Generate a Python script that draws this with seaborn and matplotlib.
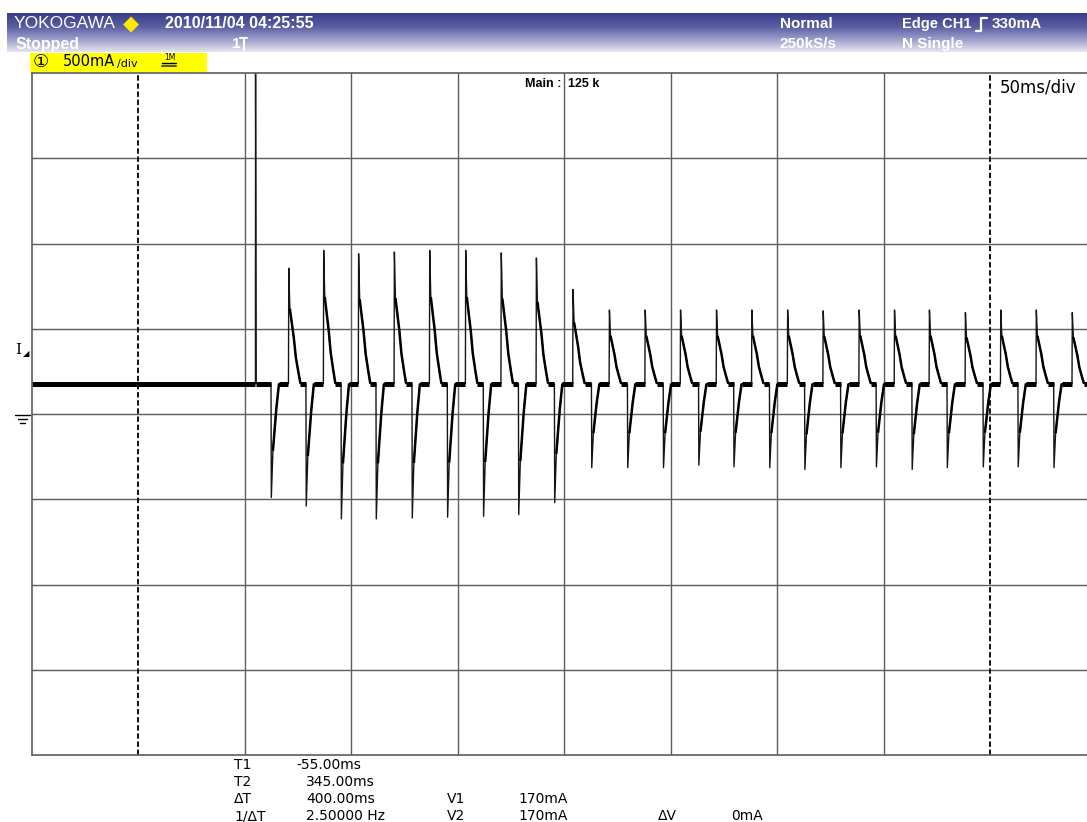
import matplotlib
matplotlib.use('Agg')  # Non-interactive backend
import matplotlib.pyplot as plt
from matplotlib.patches import Rectangle
from matplotlib.lines import Line2D
from matplotlib.colors import LinearSegmentedColormap
import seaborn as sns
import numpy as np
import pandas as pd

sns.set_theme(style="white")
plt.rcParams['font.family'] = ['DejaVu Sans']
HDR_FONT = ['Liberation Sans', 'DejaVu Sans']

W, H = 1087, 822

# scope window: 50 ms/div, 500 mA/div
T_LEFT, T_RIGHT = -105.0, 390.5
Y_MIN, Y_MAX = -2000, 2000
CURSOR_T = [-55.0, 345.0]
GRID_T = [-5, 45, 95, 145, 195, 245, 295]
GRID_MA = [-1500, -1000, -500, 0, 500, 1000, 1500]

BASELINE_MA = 178
TRIG_T = 0.0
TRIG_PEAK_MA = 2100

# negative spikes (time ms, minimum mA)
neg_t = [7.4, 23.8, 40.3, 56.7, 73.6, 90.2, 107.1, 123.6, 140.5,
         157.9, 174.8, 191.6, 208.2, 224.7, 241.5, 258.0, 274.9, 291.6,
         308.4, 324.9, 341.8, 358.2, 375.0]
neg_ma = [-490, -540, -615, -615, -610, -605, -600, -590, -520,
          -315, -315, -315, -300, -310, -315, -325, -315, -310,
          -325, -315, -310, -310, -315]

# positive spikes (time ms, maximum mA)
pos_t = [15.6, 32.0, 48.4, 65.2, 81.8, 98.7, 115.4, 131.9, 149.1,
         166.2, 183.0, 199.6, 216.5, 233.1, 249.9, 266.6, 283.5, 300.1,
         316.5, 333.4, 350.0, 366.7, 383.6]
pos_ma = [855, 960, 940, 950, 960, 960, 945, 915, 730,
          610, 610, 610, 610, 610, 610, 605, 610, 610,
          610, 595, 610, 610, 595]

# pulse shapes: offset (ms) and fraction of the excursion
pos_dt = [-0.15, 0.0, 0.5, 1.25, 2.35, 3.3, 4.5, 5.5]
pos_frac = [0, 1, 0.65, 0.55, 0.4, 0.23, 0.1, 0]
neg_dt = [-0.15, 0.0, 0.75, 1.55, 2.35, 3.6]
neg_frac = [0, 1, 0.59, 0.4, 0.22, 0]
trig_dt = [-0.05, 0.0, 0.25]
trig_frac = [0, 1, 0]


def px(x, y):
    """Pixel position (from top-left) to figure fraction."""
    return x / W, 1 - y / H


def fig_line(fig, xs, ys, **kw):
    fig.add_artist(Line2D([x / W for x in xs], [1 - y / H for y in ys],
                          transform=fig.transFigure, **kw))


# build the trace from the spike list
events = [(TRIG_T, TRIG_PEAK_MA, trig_dt, trig_frac)]
events += [(t, a, neg_dt, neg_frac) for t, a in zip(neg_t, neg_ma)]
events += [(t, a, pos_dt, pos_frac) for t, a in zip(pos_t, pos_ma)]
events.sort(key=lambda e: e[0])

ts, vs, gaps = [T_LEFT], [BASELINE_MA], []
tail_t, tail_v = [], []   # noisy recovery part of each spike
prev_end = T_LEFT
for t0, amp, dts, fr in events:
    gaps.append((prev_end, t0 + dts[0]))
    for i, (d, f) in enumerate(zip(dts, fr)):
        v = BASELINE_MA + f * (amp - BASELINE_MA)
        ts.append(t0 + d)
        vs.append(v)
        if i >= 2:
            tail_t.append(t0 + d)
            tail_v.append(v)
    tail_t.append(np.nan)
    tail_v.append(np.nan)
    prev_end = t0 + dts[-1]
gaps.append((prev_end, T_RIGHT))
ts.append(T_RIGHT)
vs.append(BASELINE_MA)
trace = pd.DataFrame({'t_ms': ts, 'i_ma': vs})

fig = plt.figure(figsize=(W / 100, H / 100), dpi=100, facecolor='white')

# header bar with vertical gradient
hx0, hy1 = px(7, 52)
hdr = fig.add_axes([hx0, hy1, 1 - hx0, 39 / H])
grad = np.linspace(0, 1, 64).reshape(-1, 1)
hdr_cmap = LinearSegmentedColormap.from_list('hdr', ['#3a3e8c', '#585ca0', '#9a9cca', '#e4e4ef'])
hdr.imshow(grad, aspect='auto', cmap=hdr_cmap, extent=[0, 1, 0, 1], origin='upper')
hdr.axis('off')

# main scope area
ax0, ay0 = px(32, 755)
ax = fig.add_axes([ax0, ay0, 1 - ax0, (755 - 73) / H])
ax.set_facecolor('white')
sns.lineplot(data=trace, x='t_ms', y='i_ma', ax=ax, color='#151515', lw=1.0,
             estimator=None, sort=False)
ax.plot(tail_t, tail_v, color='black', lw=1.8, solid_capstyle='butt')
ax.hlines([BASELINE_MA] * len(gaps), [g[0] for g in gaps], [g[1] for g in gaps],
          color='black', lw=3.6)
for x in GRID_T:
    ax.axvline(x, color='#5c5c5c', lw=1.0, zorder=0)
for y in GRID_MA:
    ax.axhline(y, color='#5c5c5c', lw=1.0, zorder=0)
for x in CURSOR_T:
    ax.axvline(x, color='black', lw=1.3, ls=(0, (3, 1.5)), zorder=1)
ax.set_xlim(T_LEFT, T_RIGHT)
ax.set_ylim(Y_MIN, Y_MAX)
ax.set_xlabel('')
ax.set_ylabel('')
ax.set_xticks([])
ax.set_yticks([])
for side in ['left', 'top', 'bottom']:
    ax.spines[side].set_color('#5c5c5c')
    ax.spines[side].set_linewidth(1.2)
ax.spines['right'].set_visible(False)

fig.text(*px(561, 84), 'Main :', fontsize=9, fontweight='bold', family=HDR_FONT,
         color='black', ha='right', va='center')
fig.text(*px(568, 84), '125 k', fontsize=9, fontweight='bold', family=HDR_FONT,
         color='black', ha='left', va='center')
fig.text(*px(1000, 88), '50ms/div', fontsize=12, color='black', ha='left', va='center')

# header texts
hw = dict(color='white', va='center', ha='left', family=HDR_FONT)
fig.text(*px(14, 23), 'YOKOGAWA', fontsize=12.5, **hw)
fig.text(*px(123, 24), '◆', fontsize=15, color='#ffe800', va='center', ha='left')
fig.text(*px(165, 24), '2010/11/04 04:25:55', fontsize=11.5, fontweight='bold', **hw)
fig.text(*px(16, 44), 'Stopped', fontsize=11.5, fontweight='bold', **hw)
fig.text(*px(232, 44), '1', fontsize=11, fontweight='bold', **hw)
fig_line(fig, [240, 247], [38, 38], color='white', lw=1.5)
fig_line(fig, [243.5, 243.5], [38, 50], color='white', lw=1.5)
fig.text(*px(780, 24), 'Normal', fontsize=11, fontweight='bold', **hw)
fig.text(*px(780, 44), '250kS/s', fontsize=11, fontweight='bold', **hw)
fig.text(*px(902, 24), 'Edge CH1', fontsize=10.5, fontweight='bold', **hw)
fig.text(*px(992, 24), '330mA', fontsize=11, fontweight='bold', **hw)
fig.text(*px(902, 44), 'N Single', fontsize=11, fontweight='bold', **hw)
# rising-edge icon
fig_line(fig, [976, 981, 981, 987], [31, 31, 18, 18], color='white', lw=1.6)

# channel label box
bx, by = px(30, 72)
fig.add_artist(Rectangle((bx, by), 177 / W, 19 / H, transform=fig.transFigure,
                         facecolor='#ffff00', edgecolor='none'))
fig.text(*px(33, 62), '①', fontsize=13, color='black', va='center', ha='left')
fig.text(*px(63, 62), '500mA', fontsize=10.5, color='black', va='center', ha='left')
fig.text(*px(117, 64), '/div', fontsize=8, color='black', va='center', ha='left')
fig.text(*px(164, 58), '1M', fontsize=5.5, color='black', va='center', ha='left')
fig_line(fig, [162, 176], [63, 63], color='black', lw=1.0)
fig_line(fig, [162, 176], [66, 66], color='#555555', lw=1.5)

# trigger level and ground markers
fig.text(*px(15, 350), 'I', fontsize=11, family='DejaVu Serif', color='black',
         va='center', ha='left')
fig.text(*px(23, 354), '◢', fontsize=6, color='black', va='center', ha='left')
for y, x0, x1 in [(415, 15, 30), (419, 18, 27), (423, 20, 25)]:
    fig_line(fig, [x0, x1], [y, y], color='black', lw=1.0)

# cursor readout
rows = [765, 782, 799, 816]
labels = ['T1', 'T2', 'ΔT', '1/ΔT']
values = ['-55.00ms', '345.00ms', '400.00ms', '2.50000 Hz']
value_x = [296, 306, 306, 306]
for y, lab, val, vx in zip(rows, labels, values, value_x):
    fig.text(*px(234, y), lab, fontsize=10, color='black', va='center', ha='left')
    fig.text(*px(vx, y), val, fontsize=10, color='black', va='center', ha='left')
fig.text(*px(447, rows[2]), 'V1', fontsize=10, color='black', va='center', ha='left')
fig.text(*px(518, rows[2]), '170mA', fontsize=10, color='black', va='center', ha='left')
fig.text(*px(447, rows[3]), 'V2', fontsize=10, color='black', va='center', ha='left')
fig.text(*px(518, rows[3]), '170mA', fontsize=10, color='black', va='center', ha='left')
fig.text(*px(658, rows[3]), 'ΔV', fontsize=10, color='black', va='center', ha='left')
fig.text(*px(731, rows[3]), '0mA', fontsize=10, color='black', va='center', ha='left')

fig.savefig('out.png', dpi=100, facecolor='white')
plt.close(fig)
